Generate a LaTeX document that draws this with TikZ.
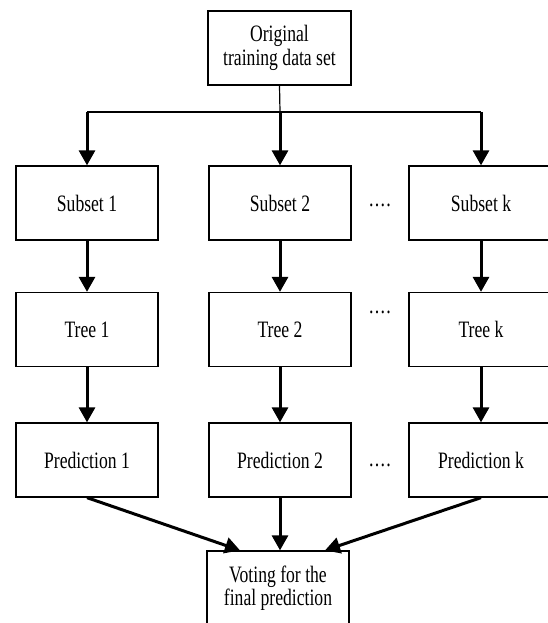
\documentclass[tikz,border=0pt]{standalone}
\usepackage{fontspec}
\setmainfont[FakeStretch=0.75]{Liberation Serif}
\usetikzlibrary{arrows.meta,calc}
\begin{document}
\begin{tikzpicture}[x=1pt,y=-1pt,
  box/.style={draw,line width=1.3pt,minimum width=142pt,minimum height=74pt,inner sep=0pt,align=center,
    font=\fontsize{23.5}{23.5}\selectfont},
  thin/.style={line width=1.2pt},
  arr/.style={line width=3pt,-{Triangle[length=15pt,width=16pt]}},
  dots/.style={anchor=base,inner sep=0pt,font=\fontsize{24}{24}\selectfont}]
\useasboundingbox (0,0) rectangle (548,623);
\clip (0,0) rectangle (548,623);
\node[box,minimum width=143pt] (top) at (279.5,48) {Original\\training data set};
\coordinate (hl) at (87,112);
\coordinate (hm) at (280,112);
\coordinate (hr) at (481,112);
\node[box] (s1) at (87,203) {Subset 1};
\node[box] (s2) at (280,203) {Subset 2};
\node[box,minimum width=144pt] (sk) at (481,203) {Subset k};
\node[box] (t1) at (87,329.5) {Tree 1};
\node[box] (t2) at (280,329.5) {Tree 2};
\node[box,minimum width=144pt] (tk) at (481,329.5) {Tree k};
\node[box] (p1) at (87,460) {Prediction 1};
\node[box] (p2) at (280,460) {Prediction 2};
\node[box,minimum width=144pt] (pk) at (481,460) {Prediction k};
\node[box] (vote) at (278,588) {Voting for the\\final prediction};
\node[dots] (d1) at (380,206) {.\kern1.2pt.\kern1.2pt.\kern1.2pt.};
\node[dots] (d2) at (380,313) {.\kern1.2pt.\kern1.2pt.\kern1.2pt.};
\node[dots] (d3) at (380,466) {.\kern1.2pt.\kern1.2pt.\kern1.2pt.};
\draw[thin] (top.south) -- (hm);
\draw[thin] (hl) -- (hr);
\draw[arr] (hl) -- (s1.north);
\draw[arr] (hm) -- (s2.north);
\draw[arr] (hr) -- (sk.north);
\draw[arr] (s1) -- (t1);
\draw[arr] (s2) -- (t2);
\draw[arr] (sk) -- (tk);
\draw[arr] (t1) -- (p1);
\draw[arr] (t2) -- (p2);
\draw[arr] (tk) -- (pk);
\draw[arr] (p1.south) -- ([xshift=-38pt]vote.north);
\draw[arr] (p2.south) -- ([xshift=2pt]vote.north);
\draw[arr] (pk.south) -- ([xshift=47pt]vote.north);
\end{tikzpicture}
\end{document}
